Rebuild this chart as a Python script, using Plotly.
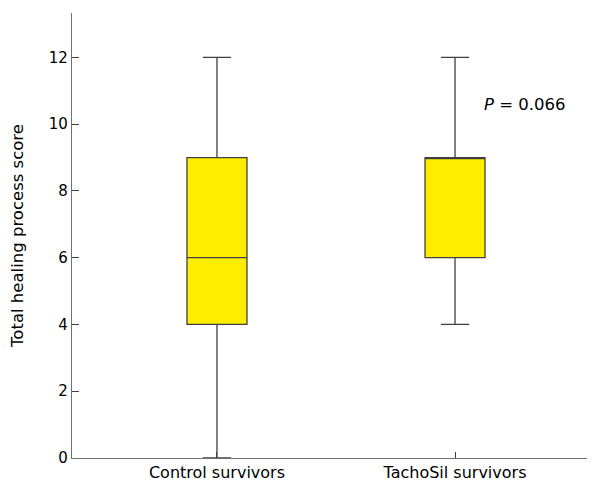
import plotly.graph_objects as go

categories = ["Control survivors", "TachoSil survivors"]
lower = [0, 4]
q1 = [4, 6]
median = [6, 9]
q3 = [9, 9]
upper = [12, 12]
y_ticks = [0, 2, 4, 6, 8, 10, 12]
p_text = "<i>P</i> = 0.066"

fig = go.Figure()
for i, c in enumerate(categories):
    fig.add_trace(go.Box(
        x=[c], q1=[q1[i]], median=[median[i]], q3=[q3[i]],
        lowerfence=[lower[i]], upperfence=[upper[i]],
        width=0.252, whiskerwidth=0.47,
        fillcolor="#FFED00",
        line=dict(color="#404040", width=1.3),
        boxpoints=False, showlegend=False, hoverinfo="skip",
    ))

font = "DejaVu Sans, Verdana, sans-serif"
fig.update_layout(
    width=587, height=480,
    margin=dict(l=64, r=0, t=5, b=30),
    plot_bgcolor="white", paper_bgcolor="white",
    font=dict(family=font, size=16, color="black"),
    xaxis=dict(
        type="category", range=[-0.609, 1.588],
        showline=True, linecolor="#707070", linewidth=1.3,
        ticks="inside", ticklen=6, tickcolor="#404040",
        showgrid=False, zeroline=False, automargin=False,
        tickfont=dict(size=16),
    ),
    yaxis=dict(
        range=[0, 13.33],
        tickvals=y_ticks,
        showline=True, linecolor="#707070", linewidth=1.3,
        ticks="inside", ticklen=7, tickcolor="#404040",
        showgrid=False, zeroline=False, automargin=False,
        tickfont=dict(size=15),
        title=dict(text="Total healing process score", font=dict(size=16.5), standoff=20),
    ),
    annotations=[dict(
        x=1, y=10.6, xref="x", yref="y", text=p_text,
        showarrow=False, xanchor="left", xshift=27,
        font=dict(size=16.5, family=font),
    )],
)
fig.write_html("out.html")
